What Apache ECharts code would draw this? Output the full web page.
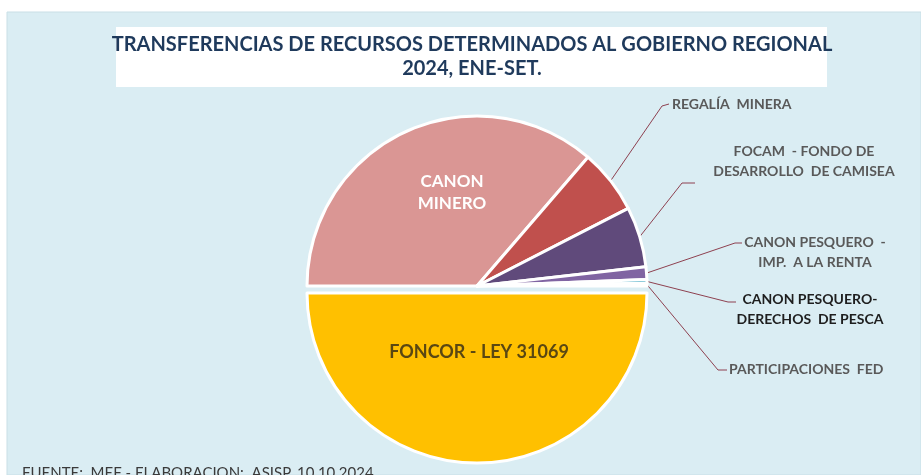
<!DOCTYPE html>
<html>
<head>
<meta charset="utf-8">
<script src="https://cdn.jsdelivr.net/npm/echarts@6/dist/echarts.min.js"></script>
<style>
    html, body { margin: 0; padding: 0; background: #ffffff; }
    #chart { width: 921px; height: 475px; }
</style>
</head>
<body>
<div id="chart"></div>
<script>
// datos del gráfico
const categories = [
    'CANON MINERO',
    'REGALÍA MINERA',
    'FOCAM - FONDO DE DESARROLLO DE CAMISEA',
    'CANON PESQUERO - IMP. A LA RENTA',
    'CANON PESQUERO- DERECHOS DE PESCA',
    'PARTICIPACIONES FED',
    'FONCOR - LEY 31069'
];
const labelTexts = [
    'CANON\nMINERO',
    'REGALÍA  MINERA',
    'FOCAM  - FONDO DE\nDESARROLLO  DE CAMISEA',
    'CANON PESQUERO  -\nIMP.  A LA RENTA',
    'CANON PESQUERO-\nDERECHOS  DE PESCA',
    'PARTICIPACIONES  FED',
    'FONCOR - LEY 31069'
];
// porcentajes aproximados
const values = [36.1, 6.1, 5.7, 1.2, 0.35, 0.25, 49.7];
const colors = ['#da9694', '#c0504d', '#604a7b', '#8064a2', '#4bacc6', '#f79646', '#ffc000'];
const titleLines = ['TRANSFERENCIAS DE RECURSOS DETERMINADOS AL GOBIERNO REGIONAL', '2024, ENE-SET.'];
const footnote = 'FUENTE:  MEF - ELABORACION:  ASISP, 10.10.2024';

// posición de etiquetas (layout); FONCOR se desplaza con dx/dy porque está seleccionado
const labelAnchors = [
    { x: 452, y: 193, align: 'center' },
    { x: 672, y: 104, align: 'left', line: [[662, 106], [669, 104]] },
    { x: 804, y: 161, align: 'center', line: [[682, 183], [695, 183]] },
    { x: 815, y: 252, align: 'center', line: [[735, 243], [742, 243]] },
    { x: 810, y: 309, align: 'center', line: [[728, 302], [736, 302]] },
    { x: 729, y: 369, align: 'left', line: [[718, 370], [727, 370]] },
    { dx: 2, dy: -29 }
];

const chart = echarts.init(document.getElementById('chart'));

const pieData = categories.map(function (name, i) {
    const item = {
        name: name,
        value: values[i],
        itemStyle: { color: colors[i] },
        label: { formatter: labelTexts[i] }
    };
    if (i === 0) {
        item.label.position = 'inside';
        item.label.color = '#ffffff';
        item.label.fontSize = 17;
        item.label.lineHeight = 22;
        item.labelLine = { show: false };
    }
    if (i === categories.length - 1) {
        item.label.position = 'inside';
        item.label.color = '#5a4712';
        item.label.fontSize = 18;
        item.labelLine = { show: false };
        item.selected = true;
    }
    if (i === 4) {
        item.label.color = '#1e1e1e';
    }
    return item;
});

const option = {
    backgroundColor: '#ffffff',
    animation: false,
    graphic: [
        {
            type: 'rect',
            shape: { x: 7, y: 12, width: 914, height: 463 },
            style: { fill: '#daedf3', stroke: '#c9dfe6', lineWidth: 1 },
            z: -10
        },
        {
            type: 'rect',
            shape: { x: 116, y: 27, width: 711, height: 60 },
            style: { fill: '#ffffff' },
            z: -5
        },
        {
            type: 'text',
            x: 472,
            y: 57,
            style: {
                text: titleLines.join('\n'),
                align: 'center',
                verticalAlign: 'middle',
                font: 'bold 20px Lato',
                lineHeight: 24,
                fill: '#1f3a5c'
            }
        },
        {
            type: 'text',
            x: 22,
            y: 466,
            style: {
                text: footnote,
                align: 'left',
                verticalAlign: 'top',
                font: '15px Lato',
                fill: '#3a3a3a'
            }
        }
    ],
    series: [{
        type: 'pie',
        center: [477, 286],
        radius: 170,
        startAngle: 180,
        clockwise: true,
        avoidLabelOverlap: false,
        selectedMode: 'single',
        selectedOffset: 7,
        itemStyle: {
            borderColor: '#ffffff',
            borderWidth: 3
        },
        label: {
            show: true,
            position: 'outside',
            fontFamily: 'Lato',
            fontWeight: 'bold',
            fontSize: 14,
            lineHeight: 20,
            color: '#595959'
        },
        labelLine: {
            show: true,
            lineStyle: { color: '#8e4150', width: 1 }
        },
        labelLayout: function (p) {
            const a = labelAnchors[p.dataIndex];
            if (a.x == null) return { dx: a.dx, dy: a.dy };
            const out = { x: a.x, y: a.y, align: a.align, verticalAlign: 'middle' };
            if (a.line && p.labelLinePoints) {
                out.labelLinePoints = [p.labelLinePoints[0], a.line[0], a.line[1]];
            }
            return out;
        },
        emphasis: { disabled: true },
        data: pieData
    }]
};

chart.setOption(option);
</script>
</body>
</html>
